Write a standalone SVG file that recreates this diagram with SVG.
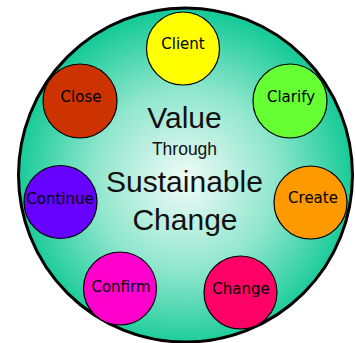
<svg xmlns="http://www.w3.org/2000/svg" width="356" height="343" viewBox="0 0 356 343">
  <defs>
    <radialGradient id="hubFill" cx="185" cy="180" r="167" gradientUnits="userSpaceOnUse">
      <stop offset="0" stop-color="#f2fbf8"/>
      <stop offset="0.55" stop-color="#8ee6cc"/>
      <stop offset="1" stop-color="#18cb98"/>
    </radialGradient>
  </defs>
  <style>
    .step { stroke: #000; stroke-width: 1.2; }
    .step-label { font-family: "DejaVu Sans", sans-serif; font-size: 15px; fill: #000; text-anchor: middle; }
    .title { font-family: "Liberation Sans", Arial, sans-serif; fill: #111; text-anchor: middle; }
  </style>

  <rect width="356" height="343" fill="#fff"/>

  <!-- outer hub -->
  <g id="hub">
    <circle cx="185.5" cy="175" r="167" fill="url(#hubFill)" stroke="#000" stroke-width="3"/>
    <text class="title" x="184.5" y="128" font-size="30">Value</text>
    <text class="title" x="184.5" y="155" font-size="17.5">Through</text>
    <text class="title" x="184.5" y="192" font-size="30">Sustainable</text>
    <text class="title" x="185" y="230" font-size="30">Change</text>
  </g>

  <!-- steps around the hub -->
  <g id="client">
    <circle class="step" cx="183" cy="48.5" r="36.5" fill="#ffff00"/>
    <text class="step-label" x="183" y="49">Client</text>
  </g>
  <g id="clarify">
    <circle class="step" cx="290" cy="101" r="37" fill="#66ff33"/>
    <text class="step-label" x="291" y="102">Clarify</text>
  </g>
  <g id="create">
    <circle class="step" cx="310.5" cy="202.5" r="36.5" fill="#ff9900"/>
    <text class="step-label" x="313" y="203">Create</text>
  </g>
  <g id="change">
    <circle class="step" cx="240.5" cy="292.5" r="36.5" fill="#ff0066"/>
    <text class="step-label" x="241" y="294">Change</text>
  </g>
  <g id="confirm">
    <circle class="step" cx="120" cy="288.5" r="36.5" fill="#ff00cc"/>
    <text class="step-label" x="121" y="292">Confirm</text>
  </g>
  <g id="continue">
    <circle class="step" cx="60.5" cy="202" r="36.5" fill="#6600ff"/>
    <text class="step-label" x="60" y="204">Continue</text>
  </g>
  <g id="close">
    <circle class="step" cx="80" cy="101" r="37" fill="#cc3300"/>
    <text class="step-label" x="81" y="102">Close</text>
  </g>
</svg>
